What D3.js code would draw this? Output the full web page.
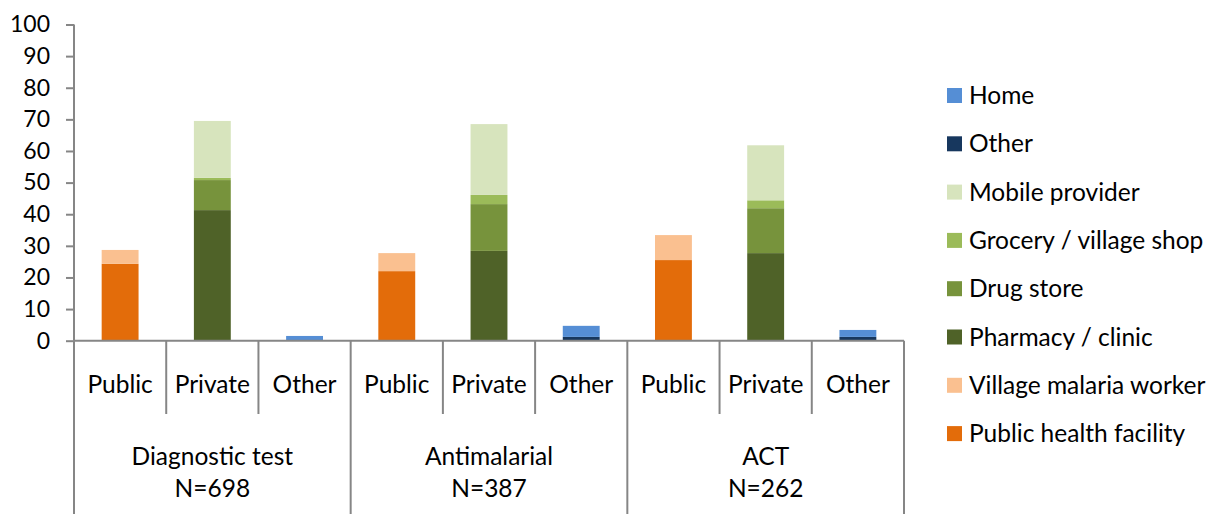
<!DOCTYPE html>
<html>
<head>
<meta charset="utf-8">
<script src="https://cdn.jsdelivr.net/npm/d3@7"></script>
<style>
  html, body { margin: 0; padding: 0; background: #fff; }
  svg { display: block; font-family: Lato, "Open Sans", sans-serif; }
</style>
</head>
<body>
<svg id="chart" width="1212" height="514"></svg>
<script>
// Outer grouping (product) and inner grouping (sector)
const groups = ["Diagnostic test", "Antimalarial", "ACT"];
const groupN = ["N=698", "N=387", "N=262"];
const sectors = ["Public", "Private", "Other"];

// Stacking order from bottom to top
const sources = [
  "Public health facility",
  "Village malaria worker",
  "Pharmacy / clinic",
  "Drug store",
  "Grocery / village shop",
  "Mobile provider",
  "Other",
  "Home"
];
const colors = ["#E36C0A", "#FAC090", "#4F6228", "#77933C", "#9BBB59", "#D7E4BD", "#17375E", "#558ED5"];

// Percent values per source, one entry per bar (group x sector, 9 bars)
const publicHealthFacility = [24.3, 0, 0, 22.0, 0, 0, 25.5, 0, 0];
const villageMalariaWorker = [4.4, 0, 0, 5.7, 0, 0, 7.9, 0, 0];
const pharmacyClinic       = [0, 41.3, 0, 0, 28.4, 0, 0, 27.7, 0];
const drugStore            = [0, 9.5, 0, 0, 14.8, 0, 0, 14.2, 0];
const groceryShop          = [0, 0.7, 0, 0, 2.9, 0, 0, 2.5, 0];
const mobileProvider       = [0, 18.0, 0, 0, 22.4, 0, 0, 17.4, 0];
const otherSource          = [0, 0, 0, 0, 0, 1.2, 0, 0, 1.2];
const home                 = [0, 0, 1.5, 0, 0, 3.5, 0, 0, 2.2];

const yTicks = [0, 10, 20, 30, 40, 50, 60, 70, 80, 90, 100];

const seriesValues = [publicHealthFacility, villageMalariaWorker, pharmacyClinic, drugStore,
                      groceryShop, mobileProvider, otherSource, home];

// Build row records for d3.stack
const bars = [];
groups.forEach((g, gi) => sectors.forEach((s, si) => {
  const i = gi * sectors.length + si;
  const row = { key: g + "|" + s, group: g, sector: s };
  sources.forEach((src, k) => { row[src] = seriesValues[k][i]; });
  bars.push(row);
}));

const svg = d3.select("#chart");
const axisColor = "#868686";
const plotLeft = 74, plotRight = 904, plotTop = 24.5, plotBase = 340.7;

const x = d3.scaleBand().domain(bars.map(d => d.key)).range([plotLeft, plotRight]).paddingInner(0).paddingOuter(0);
const y = d3.scaleLinear().domain([0, 100]).range([plotBase, plotTop]);
const color = d3.scaleOrdinal().domain(sources).range(colors);
const barW = x.bandwidth() * 0.4;

const stacked = d3.stack().keys(sources)(bars);

svg.append("g").selectAll("g").data(stacked).join("g")
  .attr("fill", d => color(d.key))
  .selectAll("rect").data(d => d.filter(p => p[1] - p[0] > 0)).join("rect")
  .attr("x", d => x(d.data.key) + (x.bandwidth() - barW) / 2)
  .attr("width", barW)
  .attr("y", d => y(d[1]))
  .attr("height", d => y(d[0]) - y(d[1]));

// Y axis
const yAxis = d3.axisLeft(y).tickValues(yTicks).tickSize(8).tickPadding(16);
const yg = svg.append("g").attr("transform", `translate(${plotLeft},0)`).call(yAxis);
yg.select(".domain").attr("stroke", axisColor).attr("stroke-width", 2).attr("d", `M0,${plotTop}V${plotBase}`);
yg.selectAll(".tick line").attr("stroke", axisColor).attr("stroke-width", 2);
yg.selectAll(".tick text").attr("fill", "#000").style("font-size", "23px")
  .style("font-family", "Lato, sans-serif");

// Category axis: baseline and separators
const cat = svg.append("g").attr("stroke", axisColor).attr("stroke-width", 2);
cat.append("line").attr("x1", plotLeft).attr("x2", plotRight).attr("y1", plotBase).attr("y2", plotBase);
bars.forEach((d, i) => {
  const xb = x(d.key);
  const isGroupEdge = i % sectors.length === 0;
  cat.append("line").attr("x1", xb).attr("x2", xb).attr("y1", plotBase)
    .attr("y2", isGroupEdge ? 514 : 414);
});
cat.append("line").attr("x1", plotRight).attr("x2", plotRight).attr("y1", plotBase).attr("y2", 514);

// Sector labels
svg.append("g").selectAll("text").data(bars).join("text")
  .attr("x", d => x(d.key) + x.bandwidth() / 2)
  .attr("y", 392.5)
  .attr("text-anchor", "middle")
  .style("font-size", "24.5px")
  .text(d => d.sector);

// Group labels
const groupCenter = gi => (x(bars[gi * 3].key) + x(bars[gi * 3 + 2].key) + x.bandwidth()) / 2;
const gl = svg.append("g").attr("text-anchor", "middle").style("font-size", "24.5px");
groups.forEach((g, gi) => {
  gl.append("text").attr("x", groupCenter(gi)).attr("y", 465).text(g);
  gl.append("text").attr("x", groupCenter(gi)).attr("y", 497).text(groupN[gi]);
});

// Legend, top to bottom in reverse stacking order
const legendItems = sources.slice().reverse();
const lg = svg.append("g").attr("transform", "translate(947,0)");
const row = lg.selectAll("g").data(legendItems).join("g")
  .attr("transform", (d, i) => `translate(0,${95.5 + i * 48.3})`);
row.append("rect").attr("x", 0).attr("y", -7.5).attr("width", 15).attr("height", 15)
  .attr("fill", d => color(d));
row.append("text").attr("x", 22).attr("y", 8.5).style("font-size", "24.5px").text(d => d);
</script>
</body>
</html>
